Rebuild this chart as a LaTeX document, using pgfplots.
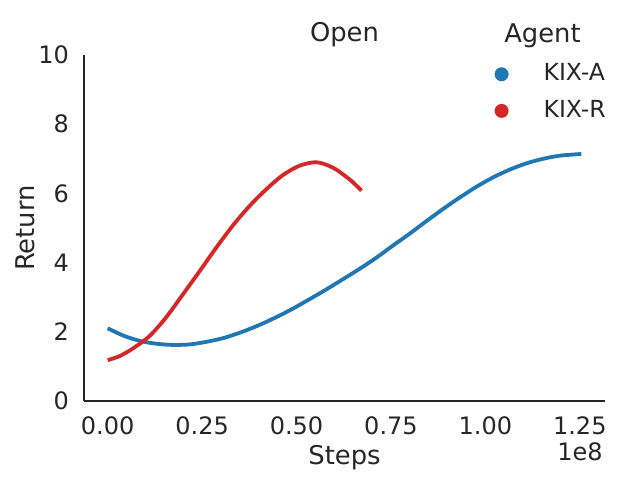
\documentclass[border=0pt]{standalone}
\usepackage{fontspec}
\setmainfont{DejaVu Sans}
\usepackage{pgfplots}
\pgfplotsset{compat=1.18}
\definecolor{tblue}{HTML}{1F77B4}
\definecolor{tred}{HTML}{D62728}
\definecolor{txt}{HTML}{262626}
\begin{document}
\begin{tikzpicture}
\useasboundingbox (-84bp,-77bp) rectangle (547bp,401bp);
\begin{axis}[
  scale only axis,
  width=521bp, height=346bp,
  xmin=-0.0627, xmax=1.3167,
  ymin=0, ymax=10,
  axis x line*=bottom, axis y line*=left,
  axis line style={txt, line width=1.1bp, -},
  major tick length=0pt,
  xtick={0,0.25,0.5,0.75,1,1.25},
  ytick={0,2,4,6,8,10},
  /pgf/number format/assume math mode=true,
  xticklabel={\pgfmathprintnumber[fixed,fixed zerofill,precision=2]{\tick}},
  ticklabel style={font=\fontsize{24bp}{28bp}\selectfont, text=txt, inner sep=0pt},
  xticklabel style={yshift=-15.5bp},
  yticklabel style={xshift=-15bp},
  xlabel={Steps}, ylabel={Return},
  label style={font=\fontsize{25.8bp}{30bp}\selectfont, text=txt},
  xlabel style={at={(axis description cs:0.5,0)}, anchor=base, yshift=-63bp, inner sep=0pt},
  ylabel style={at={(axis description cs:0,0.5)}, anchor=base, yshift=49bp, inner sep=0pt},
  title={Open},
  title style={font=\fontsize{25.8bp}{30bp}\selectfont, text=txt, at={(axis description cs:0.5,1)}, anchor=base, yshift=8bp, inner sep=0pt},
  legend style={draw=none, fill=none, at={(axis description cs:0.782,0.982)}, anchor=north west,
    font=\fontsize{23.5bp}{28bp}\selectfont, text=txt, row sep=18bp,
    nodes={inner sep=0pt, anchor=base west}},
  legend cell align=left,
  legend image code/.code={\fill[#1, draw=none] (7bp,6.3bp) circle (7bp); \path[draw=none, fill=none] (0bp,0bp) rectangle (49bp,12bp);},
  clip=false,
]
\addplot[tblue, line width=3.8bp, smooth, tension=0.5, forget plot] coordinates {
(0,2.10) (0.044,1.88) (0.088,1.73) (0.133,1.65) (0.177,1.62) (0.221,1.64) (0.266,1.72) (0.310,1.83) (0.354,1.99) (0.398,2.18) (0.442,2.40) (0.487,2.65) (0.531,2.92) (0.575,3.20) (0.620,3.50) (0.667,3.82) (0.711,4.14) (0.755,4.49) (0.800,4.84) (0.844,5.20) (0.888,5.55) (0.932,5.88) (0.976,6.19) (1.020,6.46) (1.065,6.69) (1.109,6.87) (1.153,7.00) (1.197,7.09) (1.254,7.14)};
\addplot[tred, line width=3.8bp, smooth, tension=0.5, forget plot] coordinates {
(0,1.18) (0.032,1.30) (0.067,1.52) (0.111,1.88) (0.155,2.42) (0.199,3.08) (0.244,3.76) (0.288,4.44) (0.332,5.08) (0.376,5.64) (0.420,6.12) (0.464,6.53) (0.508,6.80) (0.553,6.90) (0.597,6.74) (0.641,6.40) (0.672,6.08)};
\addlegendimage{tblue}
\addlegendentry{KIX-A}
\addlegendimage{tred}
\addlegendentry{KIX-R}
\node[font=\fontsize{25.8bp}{30bp}\selectfont, text=txt, anchor=base, inner sep=0pt] at (axis description cs:0.88,1.0367) {Agent};
\node[font=\fontsize{24bp}{28bp}\selectfont, text=txt, anchor=base east, inner sep=0pt] at (axis description cs:0.996,-0.1734) {1e8};
\end{axis}
\end{tikzpicture}
\end{document}
